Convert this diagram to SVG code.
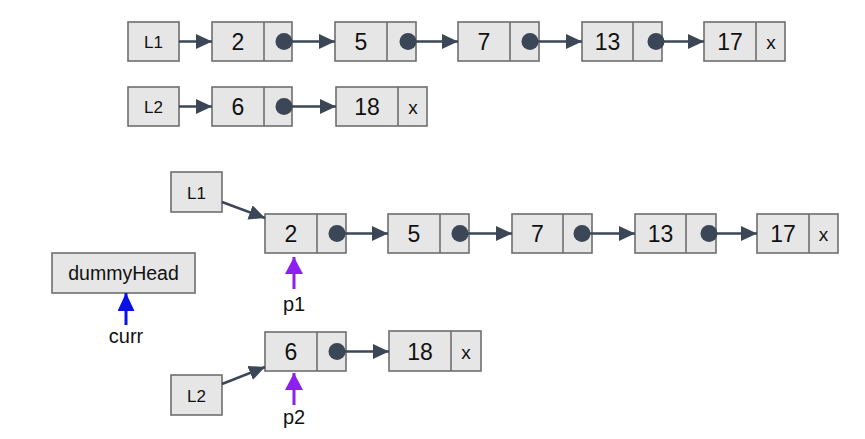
<svg xmlns="http://www.w3.org/2000/svg" width="865" height="439" viewBox="0 0 865 439">
  <style>
    .box { fill: #e6e6e6; stroke: #6e6e6e; stroke-width: 1.6; }
    .div { stroke: #6e6e6e; stroke-width: 1.6; }
    .val { font-family: "Liberation Sans", Arial, sans-serif; font-size: 23px; fill: #111; text-anchor: middle; }
    .lbl { font-family: "Liberation Sans", Arial, sans-serif; font-size: 17px; fill: #111; text-anchor: middle; }
    .head { font-family: "Liberation Sans", Arial, sans-serif; font-size: 19.5px; fill: #111; text-anchor: middle; }
    .nil { font-family: "Liberation Sans", Arial, sans-serif; font-size: 19px; fill: #111; text-anchor: middle; }
    .ptr { font-family: "Liberation Sans", Arial, sans-serif; font-size: 20px; fill: #111; text-anchor: middle; }
    .dot { fill: #3b4656; }
    .link { stroke: #3b4656; stroke-width: 2.5; fill: none; marker-end: url(#head); }
    .blue { stroke: #0a10e6; stroke-width: 3; fill: none; marker-end: url(#headBlue); }
    .purple { stroke: #8d1ff0; stroke-width: 3; fill: none; marker-end: url(#headPurple); }
  </style>
  <defs>
    <marker id="head" markerUnits="userSpaceOnUse" markerWidth="16" markerHeight="16" refX="16" refY="7.5" orient="auto">
      <path d="M0,0 L16,7.5 L0,15 z" fill="#3b4656"/>
    </marker>
    <marker id="headBlue" markerUnits="userSpaceOnUse" markerWidth="19" markerHeight="19" refX="18" refY="8.5" orient="auto">
      <path d="M0,0 L18,8.5 L0,17 z" fill="#0a10e6"/>
    </marker>
    <marker id="headPurple" markerUnits="userSpaceOnUse" markerWidth="19" markerHeight="19" refX="17" refY="9" orient="auto">
      <path d="M0,0 L17,9 L0,18 z" fill="#8d1ff0"/>
    </marker>
  </defs>

  <rect width="865" height="439" fill="#ffffff"/>

  <!-- ===== Original lists ===== -->
  <g id="top-l1">
    <rect class="box" x="128" y="22" width="51" height="39"/>
    <text class="lbl" x="153.5" y="48">L1</text>
  </g>
  <g id="top-n2">
    <rect class="box" x="212" y="22" width="80" height="39"/>
    <line class="div" x1="264" y1="22" x2="264" y2="61"/>
    <text class="val" x="238" y="50">2</text>
  </g>
  <g id="top-n5">
    <rect class="box" x="335" y="22" width="81" height="39"/>
    <line class="div" x1="387" y1="22" x2="387" y2="61"/>
    <text class="val" x="361" y="50">5</text>
  </g>
  <g id="top-n7">
    <rect class="box" x="458" y="22" width="81" height="39"/>
    <line class="div" x1="510" y1="22" x2="510" y2="61"/>
    <text class="val" x="484" y="50">7</text>
  </g>
  <g id="top-n13">
    <rect class="box" x="582" y="22" width="80" height="39"/>
    <line class="div" x1="633" y1="22" x2="633" y2="61"/>
    <text class="val" x="607.5" y="50">13</text>
  </g>
  <g id="top-n17">
    <rect class="box" x="704" y="22" width="81" height="39"/>
    <line class="div" x1="756" y1="22" x2="756" y2="61"/>
    <text class="val" x="730" y="50">17</text>
    <text class="nil" x="771" y="49">x</text>
  </g>

  <g id="top-l2">
    <rect class="box" x="128" y="87" width="51" height="39"/>
    <text class="lbl" x="153.5" y="113">L2</text>
  </g>
  <g id="top-n6">
    <rect class="box" x="212" y="87" width="80" height="39"/>
    <line class="div" x1="264" y1="87" x2="264" y2="126"/>
    <text class="val" x="238" y="115">6</text>
  </g>
  <g id="top-n18">
    <rect class="box" x="336" y="87" width="91" height="39"/>
    <line class="div" x1="398" y1="87" x2="398" y2="126"/>
    <text class="val" x="367" y="115">18</text>
    <text class="nil" x="413" y="114">x</text>
  </g>

  <!-- ===== Merge setup ===== -->
  <g id="l1">
    <rect class="box" x="171" y="172" width="51" height="40"/>
    <text class="lbl" x="196.5" y="198.5">L1</text>
  </g>
  <g id="n2">
    <rect class="box" x="265" y="214" width="81" height="39"/>
    <line class="div" x1="317" y1="214" x2="317" y2="253"/>
    <text class="val" x="291" y="242">2</text>
  </g>
  <g id="n5">
    <rect class="box" x="388" y="214" width="81" height="39"/>
    <line class="div" x1="440" y1="214" x2="440" y2="253"/>
    <text class="val" x="414" y="242">5</text>
  </g>
  <g id="n7">
    <rect class="box" x="512" y="214" width="80" height="39"/>
    <line class="div" x1="563" y1="214" x2="563" y2="253"/>
    <text class="val" x="537.5" y="242">7</text>
  </g>
  <g id="n13">
    <rect class="box" x="635" y="214" width="81" height="39"/>
    <line class="div" x1="686" y1="214" x2="686" y2="253"/>
    <text class="val" x="660.5" y="242">13</text>
  </g>
  <g id="n17">
    <rect class="box" x="757" y="214" width="81" height="39"/>
    <line class="div" x1="809" y1="214" x2="809" y2="253"/>
    <text class="val" x="783" y="242">17</text>
    <text class="nil" x="823.5" y="241">x</text>
  </g>

  <g id="dummyHead">
    <rect class="box" x="52" y="253" width="143" height="40"/>
    <text class="head" x="123.5" y="280">dummyHead</text>
  </g>

  <g id="n6">
    <rect class="box" x="265" y="332" width="81" height="39"/>
    <line class="div" x1="317" y1="332" x2="317" y2="371"/>
    <text class="val" x="291" y="360">6</text>
  </g>
  <g id="n18">
    <rect class="box" x="389" y="331" width="92" height="40"/>
    <line class="div" x1="451" y1="331" x2="451" y2="371"/>
    <text class="val" x="420" y="359.5">18</text>
    <text class="nil" x="466" y="358.5">x</text>
  </g>
  <g id="l2">
    <rect class="box" x="171" y="375" width="51" height="40"/>
    <text class="lbl" x="196.5" y="401.5">L2</text>
  </g>

  <g id="pointer-labels">
    <text class="ptr" x="126" y="343">curr</text>
    <text class="ptr" x="294" y="311">p1</text>
    <text class="ptr" x="294" y="424">p2</text>
  </g>

  <!-- ===== Connectors ===== -->
  <g id="connectors">
    <!-- original list 1 -->
    <line class="link" x1="179" y1="41.5" x2="212" y2="41.5"/>
    <line class="link" x1="284" y1="41.5" x2="335" y2="41.5"/>
    <line class="link" x1="408" y1="41.5" x2="458" y2="41.5"/>
    <line class="link" x1="530" y1="41.5" x2="582" y2="41.5"/>
    <line class="link" x1="656" y1="41.5" x2="704" y2="41.5"/>
    <circle class="dot" cx="284" cy="41.5" r="8.5"/>
    <circle class="dot" cx="408" cy="41.5" r="8.5"/>
    <circle class="dot" cx="530" cy="41.5" r="8.5"/>
    <circle class="dot" cx="656" cy="41.5" r="8.5"/>
    <!-- original list 2 -->
    <line class="link" x1="179" y1="106.5" x2="212" y2="106.5"/>
    <line class="link" x1="284" y1="106.5" x2="336" y2="106.5"/>
    <circle class="dot" cx="284" cy="106.5" r="8.5"/>

    <!-- merge setup list 1 -->
    <line class="link" x1="222" y1="202" x2="265" y2="218"/>
    <line class="link" x1="337" y1="233.5" x2="388" y2="233.5"/>
    <line class="link" x1="460" y1="233.5" x2="512" y2="233.5"/>
    <line class="link" x1="582" y1="233.5" x2="635" y2="233.5"/>
    <line class="link" x1="709" y1="233.5" x2="757" y2="233.5"/>
    <circle class="dot" cx="337" cy="233.5" r="8.5"/>
    <circle class="dot" cx="460" cy="233.5" r="8.5"/>
    <circle class="dot" cx="582" cy="233.5" r="8.5"/>
    <circle class="dot" cx="709" cy="233.5" r="8.5"/>
    <!-- merge setup list 2 -->
    <line class="link" x1="222" y1="384" x2="265" y2="367"/>
    <line class="link" x1="337" y1="351.5" x2="389" y2="351.5"/>
    <circle class="dot" cx="337" cy="351.5" r="8.5"/>

    <!-- pointers -->
    <line class="blue" x1="126" y1="325" x2="126" y2="293"/>
    <line class="purple" x1="294" y1="289" x2="294" y2="257"/>
    <line class="purple" x1="294" y1="405" x2="294" y2="373"/>
  </g>
</svg>
